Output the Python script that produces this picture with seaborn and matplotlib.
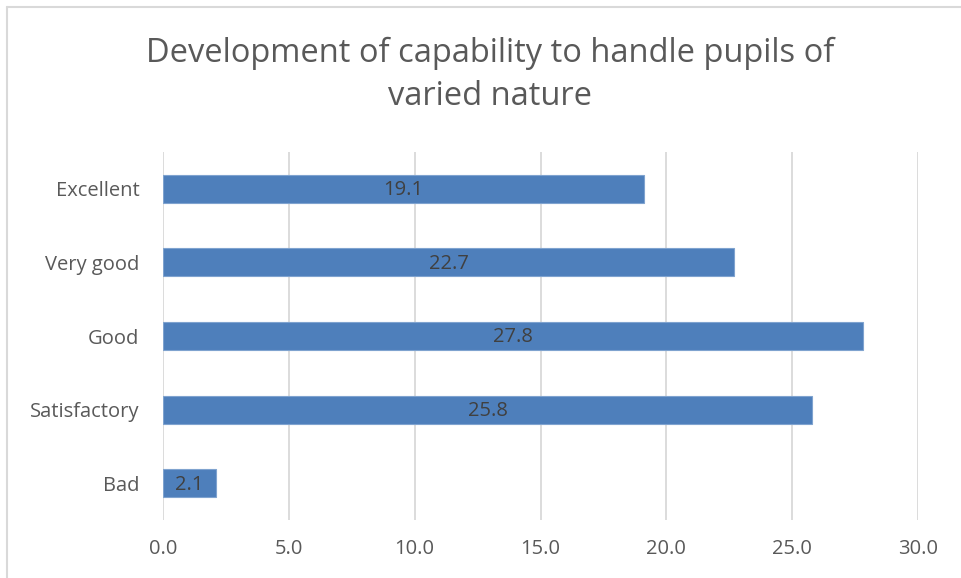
import matplotlib
matplotlib.use("Agg")
import matplotlib.pyplot as plt
import seaborn as sns
import pandas as pd
from matplotlib.lines import Line2D

categories = ["Excellent", "Very good", "Good", "Satisfactory", "Bad"]
values = [19.1, 22.7, 27.8, 25.8, 2.1]
xticks = [0, 5, 10, 15, 20, 25, 30]
title = "Development of capability to handle pupils of\nvaried nature"

sns.set_theme(style="white")
plt.rcParams['font.family'] = ['Open Sans', 'DejaVu Sans']

df = pd.DataFrame({"category": categories, "value": values})

fig = plt.figure(figsize=(9.61, 5.78), dpi=100)
ax = fig.add_axes([163/961, 1-520/578, (918-163)/961, (520-152)/578])

sns.barplot(data=df, x="value", y="category", order=categories, orient="h",
            color="#4E7FBB", width=0.38, edgecolor="#7FA3CF", linewidth=0.8,
            saturation=1, ax=ax, zorder=3)

ax.set_xlim(0, 30)
ax.set_ylim(4.5, -0.5)
ax.set_xticks(xticks)
ax.set_xticklabels([f"{t:.1f}" for t in xticks])
ax.xaxis.grid(True, color="#D9D9D9", linewidth=1.3, zorder=0)
ax.yaxis.grid(False)
for s in ax.spines.values():
    s.set_visible(False)
ax.set_xlabel("")
ax.set_ylabel("")
ax.tick_params(axis="x", length=0, pad=14, labelsize=14.5, labelcolor="#595959")
ax.tick_params(axis="y", length=0, pad=17, labelsize=14.5, labelcolor="#595959")

for i, v in enumerate(values):
    ax.text(v / 2, i + 0.02, f"{v:.1f}", ha="center", va="center",
            fontsize=14.5, color="#404040", zorder=4)

fig.text(490/961, 1-75/578, title, ha="center", va="center",
         fontsize=23.5, color="#595959", linespacing=1.4)

fig.add_artist(Line2D([7/961, 1], [1-7/578, 1-7/578], color="#D9D9D9",
                      linewidth=1.5, transform=fig.transFigure))
fig.add_artist(Line2D([7/961, 7/961], [0, 1-7/578], color="#D9D9D9",
                      linewidth=1.5, transform=fig.transFigure))

fig.savefig("out.png", dpi=100, facecolor="white")
